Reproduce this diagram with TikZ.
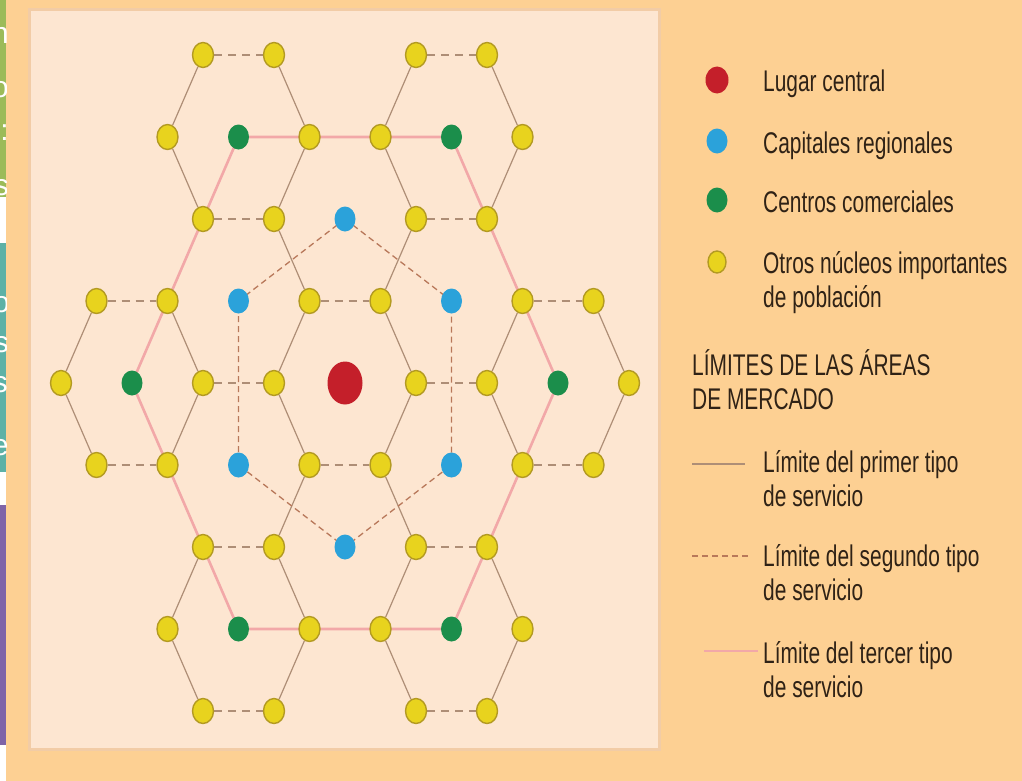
\documentclass[tikz,border=0pt]{standalone}
\usepackage{fontspec}
\usetikzlibrary{shapes.geometric}
\newfontfamily\legfont[FakeStretch=0.70]{Liberation Sans}
\newfontfamily\stripfont{Liberation Sans}
\pgfdeclarelayer{back}
\pgfdeclarelayer{bg}
\pgfsetlayers{back,bg,main}
\definecolor{bgout}{HTML}{FDD093}
\definecolor{panel}{HTML}{FDE6D1}
\definecolor{panelrim}{HTML}{F2CCA6}
\definecolor{yfill}{HTML}{E8D31E}
\definecolor{ybord}{HTML}{B39A22}
\definecolor{gfill}{HTML}{1B8E4B}
\definecolor{bfill}{HTML}{2BA2DA}
\definecolor{rfill}{HTML}{C41F2A}
\definecolor{lineone}{HTML}{AE8E76}
\definecolor{linetwo}{HTML}{B8785A}
\definecolor{linethree}{HTML}{F2A8A8}
\definecolor{txt}{HTML}{2F2216}
\definecolor{stripg}{HTML}{9BBB59}
\definecolor{stript}{HTML}{5DB1A6}
\definecolor{stripp}{HTML}{7F64A8}
\tikzset{
  dotbase/.style={ellipse, inner sep=0pt, minimum width=21bp, minimum height=25bp},
  ndY/.style={dotbase, fill=yfill, draw=ybord, line width=1.4bp},
  ndG/.style={dotbase, fill=gfill},
  ndB/.style={dotbase, fill=bfill},
  ndR/.style={ellipse, inner sep=0pt, minimum width=35bp, minimum height=43bp, fill=rfill},
  firstline/.style={draw=lineone, line width=1.2bp},
  firsthoriz/.style={draw=lineone, line width=1.4bp, dash pattern=on 8bp off 6bp},
  secondline/.style={draw=linetwo, line width=1.3bp, dash pattern=on 6bp off 4bp},
  thirdline/.style={draw=linethree, line width=2.6bp},
  legtext/.style={anchor=base west, align=left, inner sep=0pt, text=txt,
     font=\legfont\fontsize{30}{34}\selectfont},
  striptext/.style={anchor=base east, inner sep=0pt, text=white,
     font=\stripfont\fontsize{30}{34}\selectfont}
}
\begin{document}
\begin{tikzpicture}[x=1bp,y=-1bp]
\useasboundingbox (0,0) rectangle (1022,781);
\begin{pgfonlayer}{back}
% backgrounds
\fill[bgout] (0,0) rectangle (1022,781);
\fill[white] (0,0) rectangle (6,781);
\fill[stripg] (0,0) rectangle (6,197);
\fill[stript] (0,243) rectangle (6,472);
\fill[stripp] (0,505) rectangle (6,745);
\begin{scope}
  \clip (0,0) rectangle (6,472);
  \node[striptext] (s1) at (9,44) {n};
  \node[striptext] (s2) at (9,98) {o};
  \node[striptext] (s3) at (9,140) {:};
  \node[striptext] (s4) at (9,195) {s};
  \node[striptext] (s5) at (10,312) {o};
  \node[striptext] (s6) at (9,352) {s};
  \node[striptext] (s7) at (8,392) {s};
  \node[striptext] (s8) at (9,455) {e};
\end{scope}
\filldraw[fill=panel, draw=panelrim, line width=3bp] (29,10) rectangle (659,749);
\end{pgfonlayer}

% yellow nodes
\foreach \p/\k in {-4/-4,-2/-4,2/-4,4/-4,
                   -5/-3,-1/-3,1/-3,5/-3,
                   -4/-2,-2/-2,2/-2,4/-2,
                   -7/-1,-5/-1,-1/-1,1/-1,5/-1,7/-1}{
  \foreach \s in {1,-1}{
    \pgfmathtruncatemacro\P{\p+8}
    \pgfmathtruncatemacro\K{\s*\k+4}
    \node[ndY] (n\P x\K) at ({345+35.5*\p},{383+82*\s*\k}) {};
  }
}
\foreach \p in {-8,-4,-2,2,4,8}{
  \pgfmathtruncatemacro\P{\p+8}
  \node[ndY] (n\P x4) at ({345+35.5*\p},383) {};
}
% green nodes
\foreach \p/\k in {-3/-3,3/-3,-6/0,6/0,-3/3,3/3}{
  \pgfmathtruncatemacro\P{\p+8}
  \pgfmathtruncatemacro\K{\k+4}
  \node[ndG] (n\P x\K) at ({345+35.5*\p},{383+82*\k}) {};
}
% blue nodes
\foreach \p/\k in {0/-2,3/-1,3/1,0/2,-3/1,-3/-1}{
  \pgfmathtruncatemacro\P{\p+8}
  \pgfmathtruncatemacro\K{\k+4}
  \node[ndB] (n\P x\K) at ({345+35.5*\p},{383+82*\k}) {};
}
% central place
\node[ndR] (n8x4) at (345,383) {};

\begin{pgfonlayer}{bg}
  % first type: diagonal sides
  \foreach \a/\b/\c/\d in {-4/-4/-5/-3,-2/-4/-1/-3,2/-4/1/-3,4/-4/5/-3,
                           -5/-3/-4/-2,-1/-3/-2/-2,1/-3/2/-2,5/-3/4/-2,
                           -4/-2/-5/-1,-2/-2/-1/-1,2/-2/1/-1,4/-2/5/-1,
                           -7/-1/-8/0,-5/-1/-4/0,-1/-1/-2/0,1/-1/2/0,5/-1/4/0,7/-1/8/0}{
    \foreach \s in {1,-1}{
      \pgfmathtruncatemacro\A{\a+8}
      \pgfmathtruncatemacro\B{\s*\b+4}
      \pgfmathtruncatemacro\C{\c+8}
      \pgfmathtruncatemacro\D{\s*\d+4}
      \draw[firstline] (n\A x\B) -- (n\C x\D);
    }
  }
  % first type: horizontal sides
  \foreach \a/\b/\c/\d in {-4/-4/-2/-4,2/-4/4/-4,-1/-3/1/-3,
                           -4/-2/-2/-2,2/-2/4/-2,
                           -7/-1/-5/-1,-1/-1/1/-1,5/-1/7/-1,
                           -4/0/-2/0,2/0/4/0}{
    \foreach \s in {1,-1}{
      \pgfmathtruncatemacro\A{\a+8}
      \pgfmathtruncatemacro\B{\s*\b+4}
      \pgfmathtruncatemacro\C{\c+8}
      \pgfmathtruncatemacro\D{\s*\d+4}
      \draw[firsthoriz] (n\A x\B) -- (n\C x\D);
    }
  }
  % third type: hexagon through the commercial centres
  \draw[thirdline, line join=round] (n5x1.center) -- (n11x1.center) -- (n14x4.center)
     -- (n11x7.center) -- (n5x7.center) -- (n2x4.center) -- cycle;
  % second type: hexagon through the regional capitals
  \draw[secondline, line join=round] (n8x2.center) -- (n11x3.center) -- (n11x5.center)
     -- (n8x6.center) -- (n5x5.center) -- (n5x3.center) -- cycle;
\end{pgfonlayer}

% legend
\node[dotbase, fill=rfill, minimum width=23bp, minimum height=27bp] (lr) at (717,80) {};
\node[dotbase, fill=bfill] (lb) at (717,141) {};
\node[dotbase, fill=gfill] (lg) at (717,200) {};
\node[ndY, minimum width=18bp, minimum height=22bp] (ly) at (717,262) {};
\node[legtext] (tr) at (763,92) {Lugar central};
\node[legtext] (tb) at (763,153) {Capitales regionales};
\node[legtext] (tg) at (763,212) {Centros comerciales};
\node[legtext] (ty) at (763,307) {Otros núcleos importantes\\de población};
\node[legtext] (th) at (692,409) {LÍMITES DE LAS ÁREAS\\DE MERCADO};
\coordinate (l1a) at (692,464); \coordinate (l1b) at (745,464);
\coordinate (l2a) at (692,556); \coordinate (l2b) at (752,556);
\coordinate (l3a) at (704,651); \coordinate (l3b) at (758,651);
\draw[firstline] (l1a) -- (l1b);
\draw[secondline] (l2a) -- (l2b);
\draw[thirdline, line width=2bp] (l3a) -- (l3b);
\node[legtext] (t1) at (763,506) {Límite del primer tipo\\de servicio};
\node[legtext] (t2) at (763,600) {Límite del segundo tipo\\de servicio};
\node[legtext] (t3) at (763,697) {Límite del tercer tipo\\de servicio};
\end{tikzpicture}
\end{document}
